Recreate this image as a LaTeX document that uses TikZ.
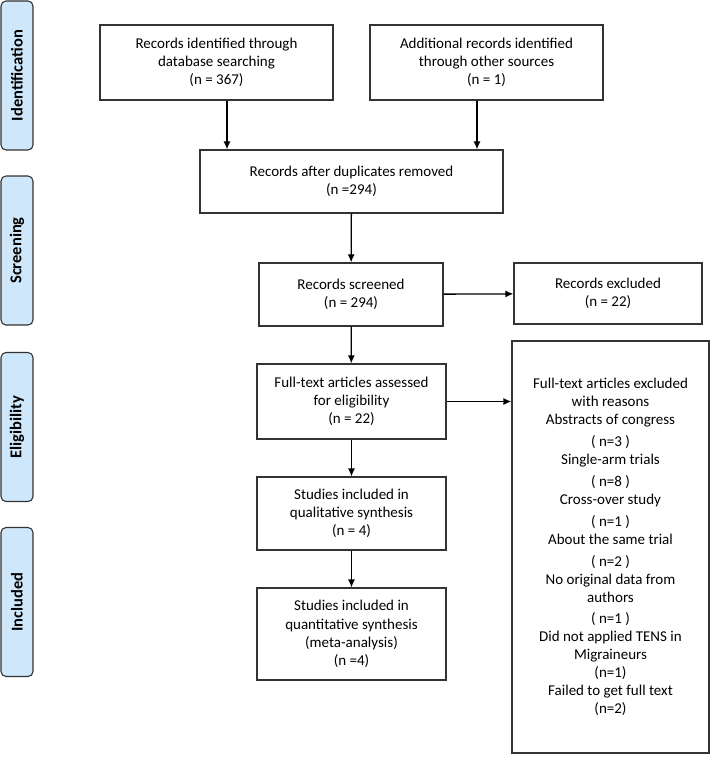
\documentclass[tikz,border=0pt]{standalone}
\usepackage{fontspec}
\setmainfont{Carlito}
\usepackage{xcolor}
\usetikzlibrary{arrows.meta,positioning,calc}
\definecolor{stagefill}{HTML}{CFE7FA}
\definecolor{boxline}{HTML}{333333}

\begin{document}
\begin{tikzpicture}[x = 1pt, y = -1pt,
    >={Latex[length=8pt, width=7pt]},
    box/.style = {draw = boxline, line width = 1.2pt, align = center, inner sep = 0pt,
      font = \fontsize{15}{18.3}\selectfont},
    stage/.style = {draw = boxline, fill = stagefill, line width = 1.1pt, rounded corners = 5pt,
      rotate = 90, minimum width = 149pt, minimum height = 32pt, inner sep = 0pt,
      font = \fontsize{16.5}{18}\selectfont\bfseries},
    arr/.style = {->, line width = 1.3pt}]
  \useasboundingbox (0,0) rectangle (710,769);
    % Stages
    \node[stage] (sid) at (17,75.5) {Identification};
    \node[stage] (sscr) at (17,250.5) {Screening};
    \node[stage] (selig) at (17,427) {Eligibility};
    \node[stage] (sinc) at (17,602) {Included};
    % Boxes
    \node[box, minimum width = 233pt, minimum height = 75pt] (rdb) at (216.5,62.5) {Records identified through\\database searching\\(n = 367)};
    \node[box, minimum width = 233pt, minimum height = 75pt] (roth) at (486.5,62.5) {Additional records identified\\through other sources\\(n = 1)};
    \node[box, minimum width = 303pt, minimum height = 63pt] (dup) at (351.5,181.5) {Records after duplicates removed\\(n =294)};
    \node[box, minimum width = 184pt, minimum height = 63pt] (scr) at (351,294.5) {Records screened\\(n = 294)};
    \node[box, minimum width = 188pt, minimum height = 61pt] (exc) at (608,293.5) {Records excluded\\(n = 22)};
    \node[box, minimum width = 189pt, minimum height = 75pt] (full) at (351.5,401.5) {Full-text articles assessed\\for eligibility\\(n = 22)};
    \node[box, minimum width = 197pt, minimum height = 412pt, font = \fontsize{15}{18}\selectfont] (fexc) at (610.5,547) {Full-text articles excluded\\with reasons\\Abstracts of congress\\[4pt]
      (~n=3~)\\Single-arm trials\\[4pt](~n=8~)\\Cross-over study\\[4pt](~n=1~)\\About the same trial\\[4pt](~n=2~)\\
      No original data from\\authors\\[3pt](~n=1~)\\Did not applied TENS in\\Migraineurs\\(n=1)\\Failed to get full text\\(n=2)};
    \node[box, minimum width = 189pt, minimum height = 73pt] (qual) at (351.5,513.5) {Studies included in\\qualitative synthesis\\(n = 4)};
    \node[box, minimum width = 189pt, minimum height = 92pt] (quant) at (351.5,634) {Studies included in\\quantitative synthesis\\(meta-analysis)\\(n =4)};
    % Arrows
    \draw[arr] ([xshift = 10.5pt]rdb.south) -- ([xshift = 10.5pt]rdb.south |- dup.north);
    \draw[arr] ([xshift = -9.5pt]roth.south) -- ([xshift = -9.5pt]roth.south |- dup.north);
    \draw[arr] (dup) -- (scr);
    \draw[arr] (scr) -- (exc);
    \draw[arr] (scr) -- (full);
    \draw[arr] (full.east) -- (full.east -| fexc.west);
    \draw[arr] (full) -- (qual);
    \draw[arr] (qual) -- (quant);
  \end{tikzpicture}
\end{document}
